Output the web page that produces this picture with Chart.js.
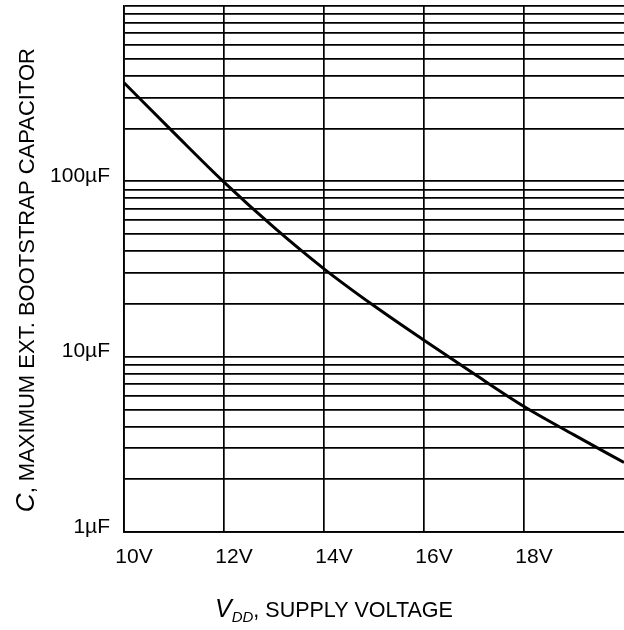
<!DOCTYPE html>
<html>
<head>
<meta charset="utf-8">
<script src="https://cdn.jsdelivr.net/npm/chart.js@4.4.1/dist/chart.umd.min.js"></script>
<style>
  html, body { margin: 0; padding: 0; background: #fff; }
  #cap-chart { display: block; }
</style>
</head>
<body>
<canvas id="cap-chart" width="624" height="630"></canvas>
<script>
// Supply voltage (V) and max external bootstrap capacitor (uF)
const supplyVolts = [10, 11, 12, 13, 14, 15, 16, 17, 18, 19, 20];
const capMicroF = [365, 189, 99, 54.6, 31.7, 19.5, 12.4, 7.98, 5.2, 3.58, 2.49];

// Axis ticks
const xTickValues = [10, 12, 14, 16, 18];
const yGridValues = [1, 2, 3, 4, 5, 6, 7, 8, 9,
                     10, 20, 30, 40, 50, 60, 70, 80, 90,
                     100, 200, 300, 400, 500, 600, 700, 800, 900, 1000];
const yTickLabels = { 1: '1µF', 10: '10µF', 100: '100µF' };

const FONT = '"Liberation Sans", Arial, sans-serif';

// axis titles have mixed italic / subscript parts, so draw them by hand
const axisTitles = {
    id: 'axisTitles',
    afterDraw(chart) {
        const ctx = chart.ctx;
        ctx.save();
        ctx.fillStyle = '#000';
        ctx.textBaseline = 'alphabetic';
        ctx.textAlign = 'left';

        // x title: V_DD, SUPPLY VOLTAGE
        let x = 215;
        const base = 617;
        ctx.font = 'italic 25px ' + FONT;
        ctx.fillText('V', x, base);
        x += ctx.measureText('V').width;
        ctx.font = 'italic 15px ' + FONT;
        ctx.fillText('DD', x, base + 5);
        x += ctx.measureText('DD').width;
        ctx.font = '21.5px ' + FONT;
        ctx.fillText(', SUPPLY VOLTAGE', x, base);

        // y title: C, MAXIMUM EXT. BOOTSTRAP CAPACITOR (rotated)
        ctx.font = 'italic 26px ' + FONT;
        const wC = ctx.measureText('C').width;
        ctx.font = '22px ' + FONT;
        const rest = ', MAXIMUM EXT. BOOTSTRAP CAPACITOR';
        const wRest = ctx.measureText(rest).width;
        ctx.translate(34, 48 + wC + wRest);
        ctx.rotate(-Math.PI / 2);
        ctx.font = 'italic 26px ' + FONT;
        ctx.fillText('C', 0, 0);
        ctx.font = '22px ' + FONT;
        ctx.fillText(rest, wC, 0);
        ctx.restore();
    }
};

const ctx = document.getElementById('cap-chart').getContext('2d');
new Chart(ctx, {
    type: 'line',
    data: {
        datasets: [{
            data: supplyVolts.map((v, i) => ({ x: v, y: capMicroF[i] })),
            borderColor: '#000',
            borderWidth: 3,
            pointRadius: 0,
            cubicInterpolationMode: 'monotone',
            fill: false
        }]
    },
    options: {
        responsive: false,
        animation: false,
        layout: { padding: { top: 6, right: 0, left: 0, bottom: 0 } },
        plugins: {
            legend: { display: false },
            tooltip: { enabled: false }
        },
        scales: {
            x: {
                type: 'linear',
                min: 10,
                max: 20,
                afterBuildTicks: s => { s.ticks = xTickValues.map(v => ({ value: v })); },
                afterFit: s => { s.height = 98; s.paddingLeft = 0; s.paddingRight = 0; },
                ticks: {
                    callback: v => v + 'V',
                    color: '#000',
                    font: { family: FONT, size: 21 },
                    padding: 13,
                    labelOffset: 10,
                    maxRotation: 0,
                    autoSkip: false
                },
                grid: { color: '#000', lineWidth: 1.7, drawTicks: false },
                border: { display: true, color: '#000', width: 1.7 }
            },
            y: {
                type: 'logarithmic',
                min: 1,
                max: 1000,
                afterBuildTicks: s => { s.ticks = yGridValues.map(v => ({ value: v })); },
                afterFit: s => { s.width = 124; s.paddingTop = 0; s.paddingBottom = 0; },
                ticks: {
                    callback: v => yTickLabels[v] || '',
                    color: '#000',
                    font: { family: FONT, size: 21 },
                    padding: 14,
                    labelOffset: -5,
                    autoSkip: false
                },
                grid: { color: '#000', lineWidth: 1.7, drawTicks: false },
                border: { display: true, color: '#000', width: 1.7 }
            }
        }
    },
    plugins: [axisTitles]
});
</script>
</body>
</html>
